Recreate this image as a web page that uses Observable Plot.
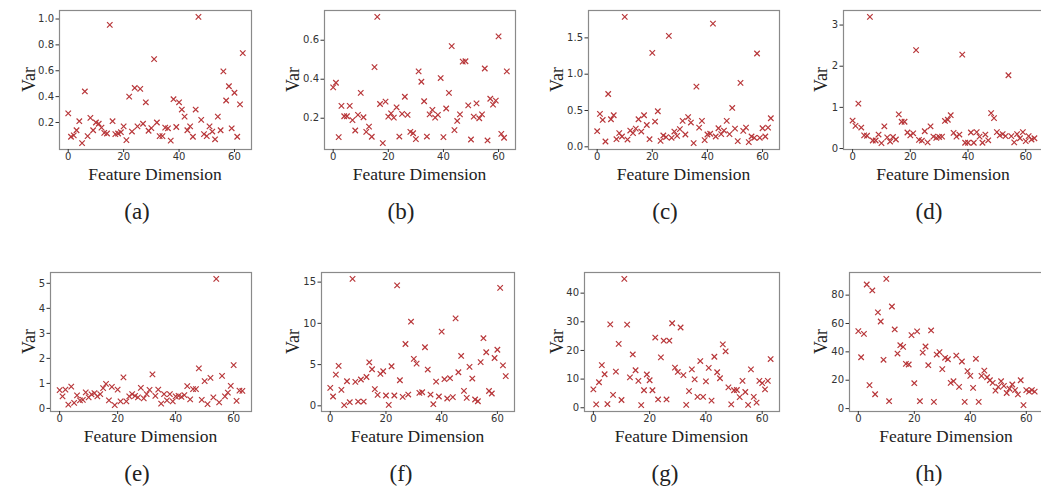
<!DOCTYPE html>
<html><head><meta charset="utf-8">
<script src="https://cdn.jsdelivr.net/npm/d3@7"></script>
<script src="https://cdn.jsdelivr.net/npm/@observablehq/plot@0.6"></script>
<style>
html,body{margin:0;padding:0;background:#fff;overflow:hidden;}
#fig{position:relative;width:1041px;height:491px;overflow:hidden;background:#fff;}
#fig svg{position:absolute;overflow:visible;}
</style></head><body><div id="fig"></div>
<script>
// ---- data ----
const dims = d3.range(64);
const xTicks = [0, 20, 40, 60];
const captions = ["(a)", "(b)", "(c)", "(d)", "(e)", "(f)", "(g)", "(h)"];
const xLabel = "Feature Dimension";
const yLabel = "Var";

const varA = [0.27,0.09,0.10,0.14,0.21,0.04,0.44,0.095,0.236,0.14,0.20,0.19,0.16,0.12,0.115,0.955,0.21,0.11,0.115,0.125,0.17,0.064,0.40,0.13,0.467,0.17,0.46,0.19,0.356,0.136,0.156,0.69,0.20,0.095,0.095,0.16,0.155,0.06,0.38,0.165,0.356,0.30,0.245,0.14,0.17,0.09,0.30,1.017,0.22,0.11,0.095,0.17,0.13,0.07,0.245,0.14,0.595,0.37,0.48,0.155,0.43,0.09,0.34,0.736];
const varB = [0.358,0.382,0.103,0.263,0.21,0.21,0.263,0.19,0.137,0.217,0.33,0.205,0.13,0.157,0.105,0.462,0.72,0.273,0.072,0.285,0.208,0.225,0.203,0.256,0.106,0.222,0.31,0.217,0.13,0.123,0.093,0.44,0.387,0.287,0.106,0.22,0.243,0.203,0.217,0.406,0.103,0.25,0.33,0.57,0.139,0.186,0.22,0.49,0.492,0.266,0.091,0.208,0.276,0.2,0.22,0.455,0.086,0.30,0.27,0.29,0.62,0.12,0.10,0.44];
const varC = [0.215,0.453,0.37,0.073,0.727,0.38,0.435,0.105,0.188,0.142,1.79,0.10,0.224,0.188,0.25,0.38,0.21,0.435,0.30,0.105,1.294,0.348,0.49,0.082,0.156,0.133,1.527,0.124,0.21,0.15,0.243,0.357,0.17,0.41,0.334,0.05,0.828,0.265,0.357,0.092,0.17,0.18,1.697,0.142,0.256,0.174,0.224,0.357,0.174,0.535,0.25,0.078,0.88,0.22,0.265,0.064,0.142,0.124,1.285,0.124,0.256,0.142,0.265,0.393];
const varD = [0.68,0.55,1.09,0.51,0.32,0.31,3.2,0.195,0.195,0.34,0.13,0.54,0.27,0.17,0.28,0.22,0.83,0.65,0.65,0.39,0.32,0.37,2.39,0.21,0.19,0.42,0.15,0.54,0.29,0.26,0.28,0.29,0.67,0.70,0.81,0.38,0.29,0.34,2.28,0.14,0.14,0.39,0.14,0.40,0.29,0.14,0.34,0.20,0.86,0.74,0.40,0.32,0.35,0.30,1.78,0.30,0.15,0.35,0.25,0.40,0.18,0.30,0.22,0.25];
const varE = [0.73,0.48,0.75,0.15,0.87,0.22,0.52,0.32,0.34,0.64,0.44,0.56,0.61,0.48,0.57,0.81,0.98,0.32,0.86,0.13,0.75,0.28,1.24,0.28,0.48,0.57,0.5,0.44,0.82,0.40,0.57,0.74,1.36,0.50,0.75,0.19,0.57,0.32,0.57,0.28,0.48,0.5,0.46,0.53,0.89,0.36,0.77,0.77,1.60,0.34,1.09,0.17,1.22,0.44,5.18,0.24,1.30,0.48,0.63,0.9,1.73,0.30,0.71,0.70];
const varF = [2.18,1.13,3.79,4.84,1.94,0.08,2.98,0.44,15.4,2.9,0.52,3.19,0.52,3.5,5.28,4.44,2.02,1.33,3.87,4.19,1.25,0.12,4.8,1.25,14.6,3.1,1.09,7.5,1.37,10.2,5.69,5.12,1.57,1.65,7.1,4.4,1.37,0.2,2.94,1.13,9.0,3.23,0.89,3.35,1.05,10.6,4.07,6.05,1.81,0.97,4.72,3.31,0.77,0.56,5.3,8.2,6.5,1.8,1.5,5.8,6.8,14.3,4.9,3.6];
const varG = [6.4,1.2,8.9,14.9,11.7,1.3,29.1,4.5,12.6,22.3,2.7,45.0,29.0,10.6,18.6,13.1,9.4,0.9,6.1,11.6,9.6,6.1,24.5,2.9,17.6,23.4,2.9,23.4,29.5,14.0,12.5,28.0,11.4,1.0,5.8,13.4,9.9,3.8,16.3,3.8,9.2,13.9,2.5,17.8,12.4,10.3,22.1,19.7,7.1,1.2,6.1,6.2,3.7,9.4,5.5,1.0,13.4,3.8,1.8,9.4,8.6,6.4,9.4,17.0];
const varH = [54.6,36.2,52.7,87.5,16.5,83.3,10.1,67.8,61.4,34.4,91.5,5.2,72.0,55.8,38.8,44.7,43.5,31.5,31.1,51.8,17.9,54.4,5.2,39.5,43.8,30.6,55.1,4.7,38.1,39.8,27.8,35.8,34.8,18.1,19.3,37.4,15.3,33.2,4.7,26.4,23.1,14.6,35.1,4.7,23.1,26.8,22.1,20.0,18.1,12.7,15.3,19.3,16,11,14,17,13,10,20,2.4,13,12,13,12];

const yTicksA = [0.2,0.4,0.6,0.8,1.0];
const yTicksB = [0.2,0.4,0.6];
const yTicksC = [0.0,0.5,1.0,1.5];
const yTicksD = [0,1,2,3];
const yTicksE = [0,1,2,3,4,5];
const yTicksF = [0,5,10,15];
const yTicksG = [0,10,20,30,40];
const yTicksH = [0,20,40,60,80];

const series = [varA,varB,varC,varD,varE,varF,varG,varH];
const yTicks = [yTicksA,yTicksB,yTicksC,yTicksD,yTicksE,yTicksF,yTicksG,yTicksH];
const yFormats = [".1f",".1f",".1f","d","d","d","d","d"];

// ---- layout (frame edges in page pixels) ----
const frames = [
  {L:59,R:251,T:10,B:149},{L:324,R:515,T:10,B:149},{L:588,R:779,T:10,B:149},{L:843,R:1043,T:10,B:149},
  {L:50,R:251,T:272,B:411},{L:321,R:514,T:272,B:411},{L:584,R:779,T:272,B:411},{L:849,R:1043,T:272,B:411}
];
const mL = 40, mR = 4, mT = 4, mB = 24;
const fig = document.getElementById("fig");

series.forEach((vals, k) => {
  const f = frames[k];
  const rows = dims.map((d, i) => ({dim: d, v: vals[i]}));
  const [lo, hi] = d3.extent(vals);
  const pad = (hi - lo) * 0.05;
  const svg = Plot.plot({
    width: (f.R - f.L) + mL + mR,
    height: (f.B - f.T) + mT + mB,
    marginLeft: mL, marginRight: mR, marginTop: mT, marginBottom: mB,
    style: {color: "#333", fontFamily: "'DejaVu Sans', sans-serif", fontSize: "10px", background: "transparent"},
    x: {domain: [-3.15, 66.15]},
    y: {domain: [lo - pad, hi + pad]},
    marks: [
      Plot.frame({stroke: "#8a8a8a", strokeWidth: 1.2}),
      Plot.axisX({ticks: xTicks, tickSize: 3, tickPadding: 0.5, label: null, fontSize: 10}),
      Plot.axisY({ticks: yTicks[k], tickFormat: d3.format(yFormats[k]), tickSize: 3.5, tickPadding: 2, label: null, fontSize: 10}),
      Plot.dot(rows, {x: "dim", y: "v", symbol: "times", r: 2.6, stroke: "#b8373a", strokeWidth: 1.2})
    ]
  });
  svg.style.left = (f.L - mL) + "px";
  svg.style.top = (f.T - mT) + "px";
  fig.appendChild(svg);
});

// ---- text labels overlay ----
const ov = d3.select(fig).append("svg")
  .attr("width", 1041).attr("height", 491)
  .style("left", "0px").style("top", "0px").style("pointer-events", "none");
frames.forEach((f, k) => {
  const col = k % 4, row = Math.floor(k / 4);
  const dy = row * 262;
  ov.append("text")
    .attr("x", (f.L + f.R) / 2).attr("y", 179.5 + dy)
    .attr("text-anchor", "middle")
    .attr("font-family", "'Liberation Serif', serif").attr("font-size", 17.5).attr("fill", "#222")
    .text(xLabel);
  ov.append("text")
    .attr("transform", `translate(${35 + 264 * col},${(f.T + f.B) / 2}) rotate(-90)`)
    .attr("text-anchor", "middle")
    .attr("font-family", "'Liberation Serif', serif").attr("font-size", 18).attr("fill", "#222")
    .text(yLabel);
  ov.append("text")
    .attr("x", 137 + 264 * col).attr("y", 219 + dy)
    .attr("text-anchor", "middle")
    .attr("font-family", "'Liberation Serif', serif").attr("font-size", 23).attr("fill", "#222")
    .text(captions[k]);
});
</script></body></html>
